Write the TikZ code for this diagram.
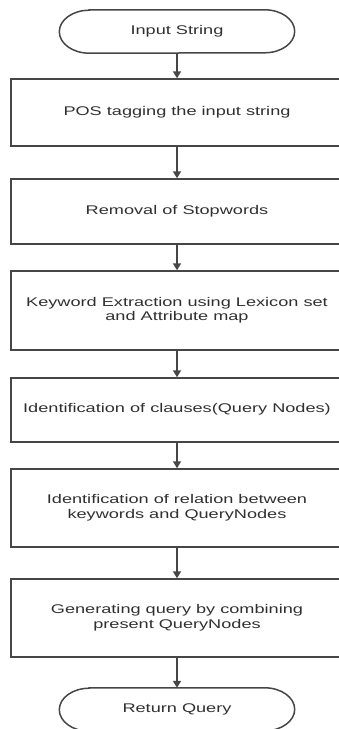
\documentclass[tikz,border=0pt]{standalone}
\usepackage{fontspec}
\setmainfont{Liberation Sans}
\usepackage{graphicx}
\usetikzlibrary{arrows.meta}
\definecolor{ln}{HTML}{464646}
\definecolor{tx}{HTML}{303030}
\newcommand\sxt[1]{\scalebox{1.44}[1]{\begin{tabular}{@{}c@{}}#1\end{tabular}}}
\newcommand\stadium[1]{\draw[edgeline] ([xshift=30pt]#1.north west) -- ([xshift=-30pt]#1.north east)
  arc[start angle=90,end angle=-90,x radius=30pt,y radius=21.5pt] -- ([xshift=30pt]#1.south west)
  arc[start angle=270,end angle=90,x radius=30pt,y radius=21.5pt] -- cycle;}
\begin{document}
\begin{tikzpicture}[x=1pt,y=1pt,
  txt/.style={text=tx,font=\fontsize{12.6}{14.5}\selectfont,inner sep=0pt},
  box/.style={txt,draw=ln,line width=1.5pt,minimum width=332pt},
  term/.style={txt,minimum width=235pt,minimum height=43pt},
  edgeline/.style={draw=ln,line width=1.5pt},
  arr/.style={draw=ln,line width=2pt,-{Triangle[width=8pt,length=7pt]}}]
\path[use as bounding box,clip] (0,0) rectangle (339,-729);
\node[term] (t1) at (177,-31.5) {\sxt{Input String}};
\stadium{t1}
\node[box,minimum height=67pt] (b1) at (177,-112.5) {\sxt{POS tagging the input string}};
\node[box,minimum height=65pt] (b2) at (177,-211.5) {\sxt{Removal of Stopwords}};
\node[box,minimum height=79pt] (b3) at (177,-310.5) {\sxt{Keyword Extraction using Lexicon set\\and Attribute map}};
\node[box,minimum height=64pt] (b4) at (177,-410) {\sxt{Identification of clauses(Query Nodes)}};
\node[box,minimum height=78pt] (b5) at (177,-508) {\sxt{Identification of relation between\\keywords and QueryNodes}};
\node[box,minimum height=78pt] (b6) at (177,-618) {\sxt{Generating query by combining\\present QueryNodes}};
\node[term] (t2) at (177,-709.5) {\sxt{Return Query}};
\stadium{t2}
\draw[arr] (t1.south) -- (b1.north);
\draw[arr] (b1.south) -- (b2.north);
\draw[arr] (b2.south) -- (b3.north);
\draw[arr] (b3.south) -- (b4.north);
\draw[arr] (b4.south) -- (b5.north);
\draw[arr] (b5.south) -- (b6.north);
\draw[arr] (b6.south) -- (t2.north);
\end{tikzpicture}
\end{document}
